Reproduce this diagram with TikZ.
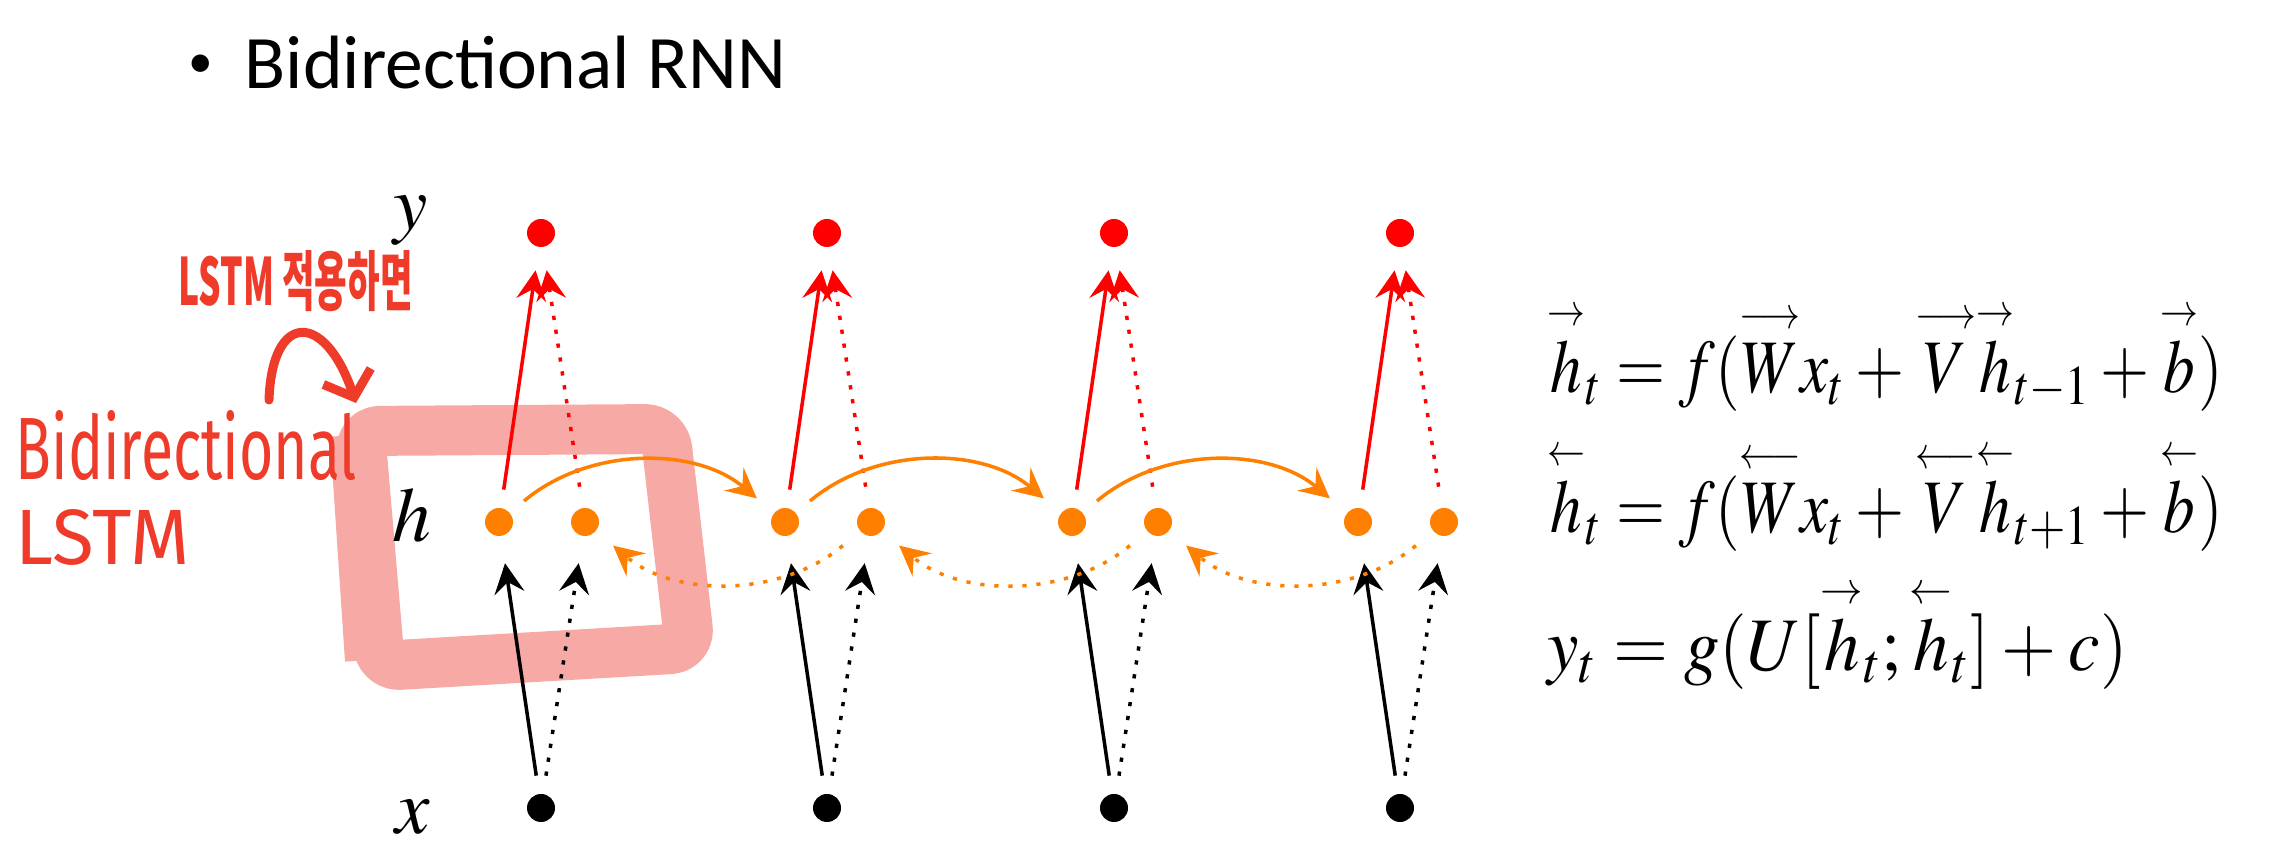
\documentclass[tikz,border=0pt]{standalone}
\usepackage{amsmath}
\usepackage{mathptmx}
\usepackage[no-math]{fontspec}
\usepackage{graphicx}
\setmainfont{Carlito}
\setsansfont{Fira Sans}
\newfontfamily\krfont{Noto Sans CJK KR}
\usetikzlibrary{positioning,calc,arrows.meta}

\definecolor{nnred}{RGB}{255,0,0}
\definecolor{nnorange}{RGB}{255,128,0}
\definecolor{penred}{RGB}{238,59,42}
\definecolor{penpink}{RGB}{247,170,165}

% arrow accents for forward / backward quantities
\newcommand{\fwd}[1]{{\overset{\scriptscriptstyle\rightarrow}{#1}}}
\newcommand{\bwd}[1]{{\overset{\scriptscriptstyle\leftarrow}{#1}}}
\newcommand{\fwdl}[1]{{\overset{\scriptscriptstyle\longrightarrow}{#1}}}
\newcommand{\bwdl}[1]{{\overset{\scriptscriptstyle\longleftarrow}{#1}}}
% set a formula to a given width, keeping its height
\newcommand{\eqwidth}[2]{\resizebox{#1}{\height}{$\medmuskip=3mu\thickmuskip=4mu #2$}}

\tikzset{
  ydot/.style={circle,fill=nnred,inner sep=0pt,minimum size=0.28cm},
  hdot/.style={circle,fill=nnorange,inner sep=0pt,minimum size=0.28cm},
  xdot/.style={circle,fill=black,inner sep=0pt,minimum size=0.28cm},
  lbl/.style={font=\fontsize{22}{26}\selectfont,anchor=base,inner sep=0pt},
  eqn/.style={font=\fontsize{21.5}{26}\selectfont,anchor=base west,inner sep=0pt},
  tip/.style={-{Stealth[length=0.3cm,width=0.3cm,inset=0.11cm]},line width=1pt},
  dotline/.style={dash pattern=on 1.2pt off 2.8pt},
  pen/.style={text=penred,inner sep=0pt,anchor=base west},
}

\begin{document}
\begin{tikzpicture}[x=1cm,y=1cm]
\useasboundingbox (0,0) rectangle (22.8,8.46);
% marker highlight round the first step, drawn under the net
\draw[penpink,line width=0.5cm,rounded corners=0.2cm,line join=round]
  (3.6,4.15) -- (6.65,4.17) -- (6.9,1.98) -- (3.8,1.8) -- cycle;
\draw[penpink,line width=0.2cm] (3.4,4.1) -- (3.55,1.85);
% slide title
\node[font=\fontsize{14}{16}\selectfont] (bullet) at (2.01,7.80) {\textbullet};
\node[font=\fontsize{21.5}{26}\selectfont,anchor=base west,inner sep=0pt] (title) at (2.44,7.57) {Bidirectional RNN};
% row labels
\node[lbl] (ylab) at (4.11,6.16) {$y$};
\node[lbl] (hlab) at (4.12,3.04) {$h$};
\node[lbl] (xlab) at (4.13,0.12) {$x$};
% units: output, forward/backward state, input
\foreach \i/\cx in {1/5.41,2/8.27,3/11.14,4/14.00} {
  \node[ydot] (y\i) at (\cx,6.13) {};
  \node[hdot] (hf\i) at (\cx-0.42,3.24) {};
  \node[hdot] (hb\i) at (\cx+0.44,3.24) {};
  \node[xdot] (x\i) at (\cx,0.38) {};
  \draw[tip,nnred,shorten <=0.18cm,shorten >=0.23cm] (hf\i) -- (y\i);
  \draw[tip,nnred,dotline,shorten <=0.21cm,shorten >=0.23cm] (hb\i) -- (y\i);
  \draw[tip,shorten <=0.18cm,shorten >=0.27cm] (x\i) -- (hf\i);
  \draw[tip,dotline,shorten <=0.18cm,shorten >=0.27cm] (x\i) -- (hb\i);
}
% recurrence: forward on top, backward below
\foreach \i [evaluate=\i as \j using int(\i+1)] in {1,2,3} {
  \draw[tip,nnorange,bend left=40,shorten <=0.18cm,shorten >=0.22cm] (hf\i) to (hf\j);
  \draw[tip,nnorange,dotline,bend left=40,shorten <=0.22cm,shorten >=0.22cm] (hb\j) to (hb\i);
}
% equations
\node[eqn] (eq1) at (15.47,4.53) {\eqwidth{6.75cm}{\fwd{h}_t = f(\fwdl{W}x_t + \fwdl{V}\fwd{h}_{t-1} + \fwd{b})}};
\node[eqn] (eq2) at (15.47,3.13) {\eqwidth{6.75cm}{\bwd{h}_t = f(\bwdl{W}x_t + \bwdl{V}\bwd{h}_{t+1} + \bwd{b})}};
\node[eqn] (eq3) at (15.47,1.75) {\eqwidth{5.80cm}{y_t = g(U[\fwd{h}_t;\bwd{h}_t]+c)}};
% handwritten notes
\node[pen] (note) at (1.78,5.40) {\resizebox{2.34cm}{0.55cm}{\krfont\bfseries LSTM 적용하면}};
\node[pen] (bilabel) at (0.15,3.66) {\resizebox{3.41cm}{0.69cm}{\sffamily Bidirectional}};
\node[pen] (lstmlabel) at (0.15,2.81) {\resizebox{1.74cm}{0.55cm}{\sffamily LSTM}};
\coordinate (penstart) at (2.69,4.46);
\coordinate (pentip) at (3.56,4.43);
\draw[penred,line width=0.09cm,line cap=round,-{Straight Barb[length=0.22cm,width=0.5cm]}]
  (penstart) .. controls (2.72,5.35) and (3.25,5.35) .. (pentip);
\end{tikzpicture}
\end{document}
